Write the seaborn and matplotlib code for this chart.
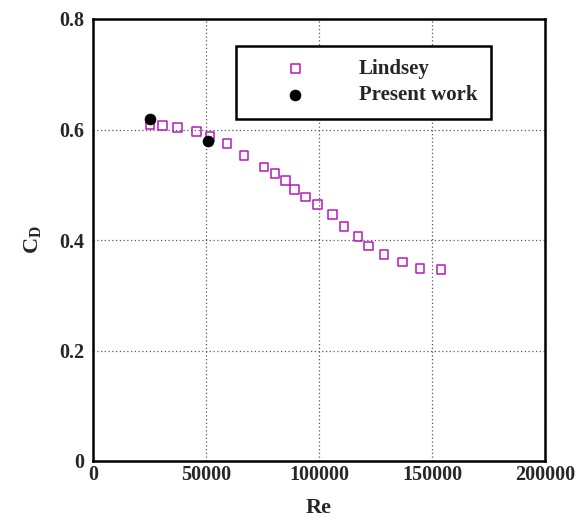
import matplotlib
matplotlib.use("Agg")
import matplotlib.pyplot as plt
import seaborn as sns
import pandas as pd

lindsey_re = [25200, 30800, 37300, 45900, 51800, 59300, 66800, 75700, 80500, 85100,
              89300, 94100, 99400, 105900, 111100, 117300, 122000, 128800, 137000,
              144700, 154000]
lindsey_cd = [0.608, 0.607, 0.603, 0.597, 0.587, 0.575, 0.553, 0.532, 0.521, 0.507,
              0.492, 0.478, 0.464, 0.446, 0.425, 0.407, 0.389, 0.374, 0.360,
              0.349, 0.346]
present_re = [25200, 51000]
present_cd = [0.619, 0.580]
xticks = [0, 50000, 100000, 150000, 200000]
yticks = [0, 0.2, 0.4, 0.6, 0.8]
ytick_labels = ["0", "0.2", "0.4", "0.6", "0.8"]

sns.set_style("white")
plt.rcParams['font.family'] = ['Liberation Serif', 'DejaVu Serif']
plt.rcParams['font.weight'] = 'bold'
plt.rcParams['mathtext.fontset'] = 'custom'
plt.rcParams['mathtext.rm'] = 'Liberation Serif:bold'
plt.rcParams['mathtext.bf'] = 'Liberation Serif:bold'
plt.rcParams['mathtext.it'] = 'Liberation Serif:bold'

fig = plt.figure(figsize=(5.83, 5.18), dpi=100)
ax = fig.add_axes([93/583, 1-461/518, (545-93)/583, (461-19)/518])

df_l = pd.DataFrame({"Re": lindsey_re, "CD": lindsey_cd})
df_p = pd.DataFrame({"Re": present_re, "CD": present_cd})

sns.scatterplot(data=df_l, x="Re", y="CD", ax=ax, marker="s", s=40,
                facecolors="none", edgecolor="#b818b8", linewidth=1.1,
                label="Lindsey", zorder=3)
sns.scatterplot(data=df_p, x="Re", y="CD", ax=ax, marker="o", s=62,
                color="black", edgecolor="black", linewidth=0.5,
                label="Present work", zorder=4)

ax.set_xlim(0, 200000)
ax.set_ylim(0, 0.8)
ax.set_xticks(xticks)
ax.set_yticks(yticks)
ax.set_xticklabels([str(v) for v in xticks], fontweight="bold", fontsize=14.5)
ax.set_yticklabels(ytick_labels, fontweight="bold", fontsize=14.5)
ax.grid(True, linestyle=(0, (1, 2)), color="#555555", linewidth=0.9)
ax.set_axisbelow(True)
for sp in ax.spines.values():
    sp.set_linewidth(1.8)
    sp.set_color("black")
ax.tick_params(axis="both", direction="in", length=4, width=1.5)
ax.tick_params(axis="x", pad=3)
ax.tick_params(axis="y", pad=6)

ax.set_xlabel("Re", fontsize=16, fontweight="bold", labelpad=9)
ax.set_ylabel(r"$\mathbf{C_D}$", fontsize=16, fontweight="bold", labelpad=12)

leg = ax.legend(loc="upper left", bbox_to_anchor=(0.316, 0.94), frameon=True,
                fancybox=False, edgecolor="black", prop={"weight": "bold", "size": 15},
                borderpad=0.65, handletextpad=0.85, labelspacing=0.3, borderaxespad=0,
                handlelength=4.4)
leg.get_frame().set_linewidth(1.8)
leg.get_frame().set_alpha(1)

fig.savefig("out.png", dpi=100)
